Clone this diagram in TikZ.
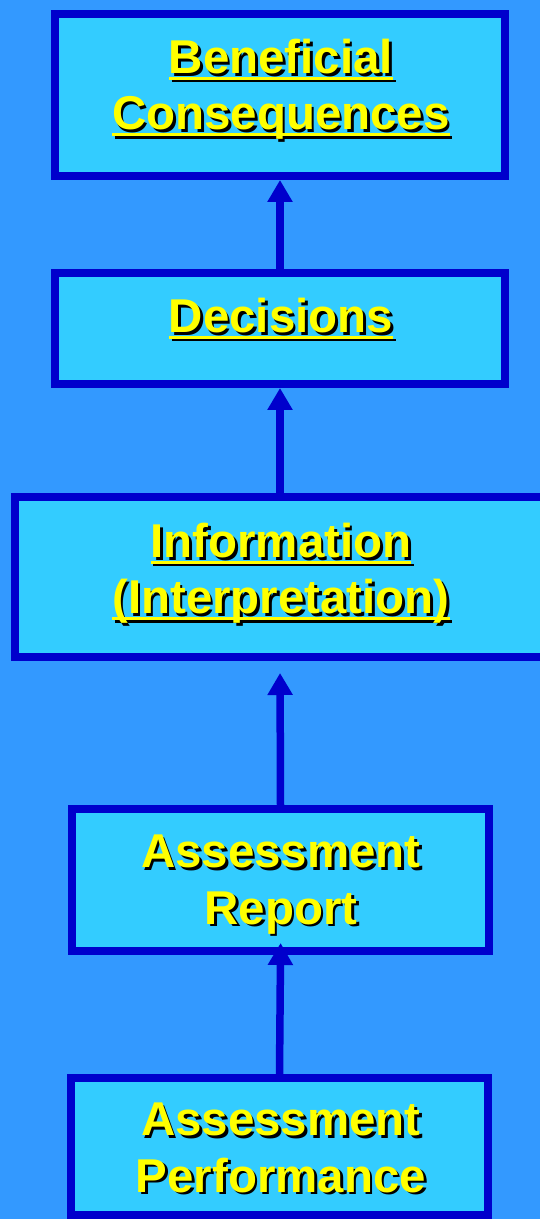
\documentclass[tikz,border=0pt]{standalone}
\usepackage{fontspec}
\setmainfont{Liberation Sans}
\usetikzlibrary{arrows.meta}

\definecolor{backblue}{HTML}{3399FF}
\definecolor{boxfill}{HTML}{33CCFF}
\definecolor{boxline}{HTML}{0000CC}
\definecolor{txtyellow}{HTML}{FFFF00}

\newcommand{\shadowtxt}[1]{\rlap{\hspace{1.5pt}\raisebox{-1.5pt}{\color{black}#1}}#1}
\newcommand{\ulword}[1]{\setbox0\hbox{#1}\rlap{\rule[-3.4pt]{\wd0}{1.5pt}}\box0}

\tikzset{
	stagebox/.style={draw=boxline,fill=boxfill,line width=0.16cm,inner sep=0},
	stagetxt/.style={anchor=north,inner sep=0,align=center,text=txtyellow,font=\bfseries\fontsize{27}{32}\selectfont},
	uparrow/.style={draw=boxline,line width=0.15cm,-{Triangle[length=0.44cm,width=0.48cm]}}
}

\begin{document}
\begin{tikzpicture}
	\fill[backblue] (0,0) rectangle (10.8,24.38);
	\useasboundingbox (0,0) rectangle (10.8,24.38);
	\node[stagebox,minimum width=9.0cm,minimum height=3.24cm] (benefit) at (5.6,22.48) {};
	\node[stagebox,minimum width=9.0cm,minimum height=2.22cm] (decide) at (5.6,17.81) {};
	\node[stagebox,minimum width=10.6cm,minimum height=3.2cm] (inform) at (5.6,12.84) {};
	\node[stagebox,minimum width=8.34cm,minimum height=2.84cm] (report) at (5.61,6.78) {};
	\node[stagebox,minimum width=8.34cm,minimum height=2.74cm] (perform) at (5.59,1.45) {};
	\node[stagetxt] (benefittxt) at (5.62,23.6) {\shadowtxt{\ulword{Beneficial}}\\\shadowtxt{\ulword{Consequences}}};
	\node[stagetxt] (decidetxt) at (5.62,18.42) {\shadowtxt{\ulword{Decisions}}};
	\node[stagetxt] (informtxt) at (5.62,13.92) {\shadowtxt{\ulword{Information}}\\\shadowtxt{\ulword{(Interpretation)}}};
	\node[stagetxt] (reporttxt) at (5.62,7.68) {\shadowtxt{Assessment}\\\shadowtxt{Report}};
	\node[stagetxt] (performtxt) at (5.62,2.32) {\shadowtxt{Assessment}\\\shadowtxt{Performance}};
	\draw[uparrow] (decide.north) -- (benefit.south);
	\draw[uparrow] (inform.north) -- (decide.south);
	\draw[uparrow,shorten >=0.24cm] (report.north) -- (inform.south);
	\draw[uparrow,shorten >=-0.24cm] (perform.north) -- (report.south);
\end{tikzpicture}
\end{document}
